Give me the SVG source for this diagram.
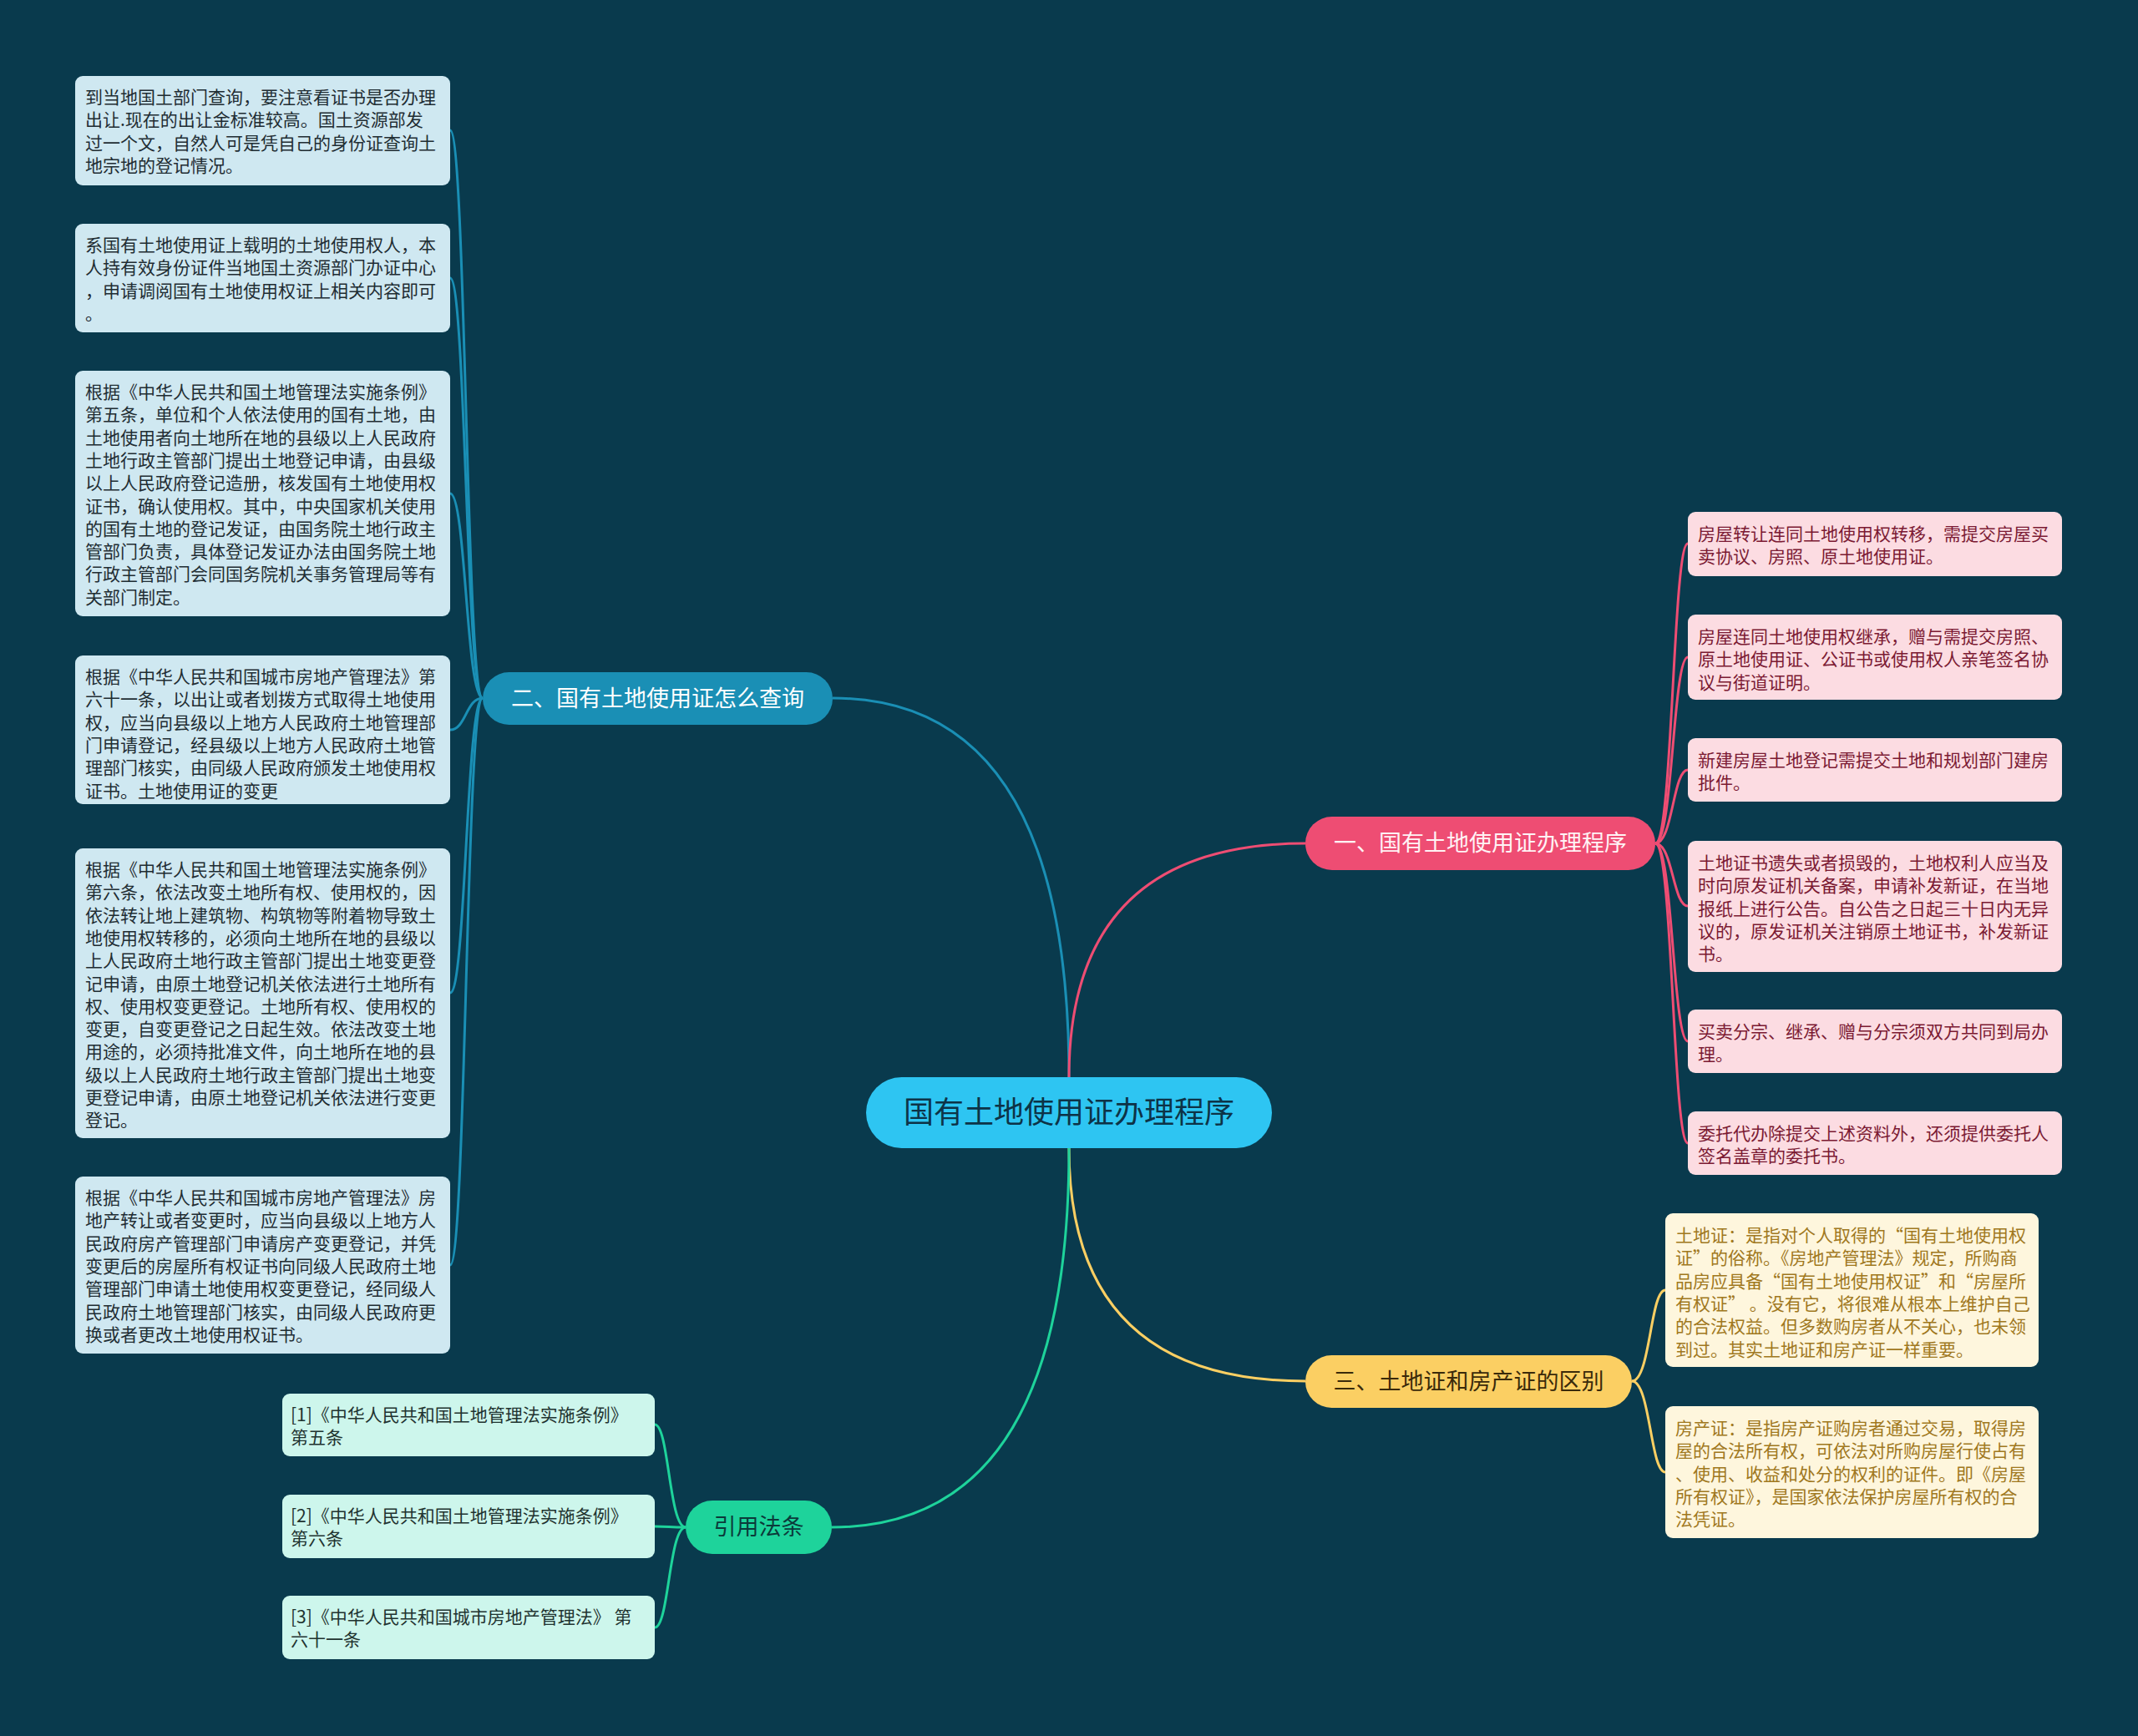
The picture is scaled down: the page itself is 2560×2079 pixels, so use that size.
<svg xmlns="http://www.w3.org/2000/svg" width="2560" height="2079" viewBox="0 0 2560 2079">
<defs>
<style>
.bg{fill:#093A4D}
.lf{font-family:"Noto Sans CJK SC","Noto Sans",sans-serif;font-size:21px}
.br{font-family:"Noto Sans CJK SC","Noto Sans",sans-serif;font-size:27px}
.blueleaf rect{fill:#CFE8F1}
.blueleaf text{fill:#1F2D33}
.pinkleaf rect{fill:#FCDCE2}
.pinkleaf text{fill:#7B1A33}
.yelleaf rect{fill:#FEF6DD}
.yelleaf text{fill:#A0781E}
.mintleaf rect{fill:#CDF6EC}
.mintleaf text{fill:#1F3330}
.c{fill:none;stroke-width:3}
</style>
</defs>
<rect class="bg" x="0" y="0" width="2560" height="2079"/>
<g id="connectors">
<path class="c" stroke="#1A8FB5" d="M1280,1290 Q1280,836 997,836"/>
<path class="c" stroke="#EE4D73" d="M1280,1290 Q1280,1010 1563,1010"/>
<path class="c" stroke="#FBCF63" d="M1280,1375 Q1280,1654 1563,1654"/>
<path class="c" stroke="#1ED39B" d="M1280,1375 Q1280,1829 996,1829"/>
<g stroke="#1A8FB5" class="c">
<path d="M578,836 C558,836 558,156 539,156"/>
<path d="M578,836 C558,836 558,333 539,333"/>
<path d="M578,836 C558,836 558,591 539,591"/>
<path d="M578,836 C558,836 558,874 539,874"/>
<path d="M578,836 C558,836 558,1189 539,1189"/>
<path d="M578,836 C558,836 558,1515 539,1515"/>
</g>
<g stroke="#EE4D73" class="c">
<path d="M1982,1010 C2003,1010 2003,651 2021,651"/>
<path d="M1982,1010 C2003,1010 2003,787 2021,787"/>
<path d="M1982,1010 C2003,1010 2003,922 2021,922"/>
<path d="M1982,1010 C2003,1010 2003,1085 2021,1085"/>
<path d="M1982,1010 C2003,1010 2003,1247 2021,1247"/>
<path d="M1982,1010 C2003,1010 2003,1369 2021,1369"/>
</g>
<g stroke="#FBCF63" class="c">
<path d="M1954,1654 C1976,1654 1976,1545 1994,1545"/>
<path d="M1954,1654 C1976,1654 1976,1763 1994,1763"/>
</g>
<g stroke="#1ED39B" class="c">
<path d="M821,1829 C801,1829 801,1706 784,1706"/>
<path d="M821,1829 C801,1829 801,1828 784,1828"/>
<path d="M821,1829 C801,1829 801,1949 784,1949"/>
</g>
</g>

<g id="center">
<rect x="1037" y="1290" width="486" height="85" rx="42.5" fill="#2EC5F2"/>
<text x="1280" y="1345" text-anchor="middle" font-family="Noto Sans CJK SC, Noto Sans, sans-serif" font-size="36" fill="#0D3347">国有土地使用证办理程序</text>
</g>

<g id="branch-2">
<rect x="578" y="805" width="419" height="63" rx="31.5" fill="#1A8FB5"/>
<text class="br" x="787.5" y="846" text-anchor="middle" fill="#FFFFFF">二、国有土地使用证怎么查询</text>
</g>
<g id="branch-1">
<rect x="1563" y="978" width="419" height="64" rx="32" fill="#EE4D73"/>
<text class="br" x="1772.5" y="1019" text-anchor="middle" fill="#FFF3F5">一、国有土地使用证办理程序</text>
</g>
<g id="branch-3">
<rect x="1563" y="1623" width="391" height="63" rx="31.5" fill="#FBCF63"/>
<text class="br" x="1758.5" y="1664" text-anchor="middle" fill="#3A2A0A">三、土地证和房产证的区别</text>
</g>
<g id="branch-cite">
<rect x="821" y="1797" width="175" height="64" rx="32" fill="#1ED39B"/>
<text class="br" x="908.5" y="1838" text-anchor="middle" fill="#0B3A3A">引用法条</text>
</g>

<g id="leaf-b1" class="blueleaf">
<rect x="90" y="91" width="449" height="131" rx="9"/>
<text class="lf" x="102" y="124"><tspan x="102">到当地国土部门查询，要注意看证书是否办理</tspan><tspan x="102" dy="27.3">出让.现在的出让金标准较高。国土资源部发</tspan><tspan x="102" dy="27.3">过一个文，自然人可是凭自己的身份证查询土</tspan><tspan x="102" dy="27.3">地宗地的登记情况。</tspan></text>
</g>
<g id="leaf-b2" class="blueleaf">
<rect x="90" y="268" width="449" height="130" rx="9"/>
<text class="lf" x="102" y="301"><tspan x="102">系国有土地使用证上载明的土地使用权人，本</tspan><tspan x="102" dy="27.3">人持有效身份证件当地国土资源部门办证中心</tspan><tspan x="102" dy="27.3">，申请调阅国有土地使用权证上相关内容即可</tspan><tspan x="102" dy="27.3">。</tspan></text>
</g>
<g id="leaf-b3" class="blueleaf">
<rect x="90" y="444" width="449" height="294" rx="9"/>
<text class="lf" x="102" y="477"><tspan x="102">根据《中华人民共和国土地管理法实施条例》</tspan><tspan x="102" dy="27.3">第五条，单位和个人依法使用的国有土地，由</tspan><tspan x="102" dy="27.3">土地使用者向土地所在地的县级以上人民政府</tspan><tspan x="102" dy="27.3">土地行政主管部门提出土地登记申请，由县级</tspan><tspan x="102" dy="27.3">以上人民政府登记造册，核发国有土地使用权</tspan><tspan x="102" dy="27.3">证书，确认使用权。其中，中央国家机关使用</tspan><tspan x="102" dy="27.3">的国有土地的登记发证，由国务院土地行政主</tspan><tspan x="102" dy="27.3">管部门负责，具体登记发证办法由国务院土地</tspan><tspan x="102" dy="27.3">行政主管部门会同国务院机关事务管理局等有</tspan><tspan x="102" dy="27.3">关部门制定。</tspan></text>
</g>
<g id="leaf-b4" class="blueleaf">
<rect x="90" y="785" width="449" height="178" rx="9"/>
<text class="lf" x="102" y="818"><tspan x="102">根据《中华人民共和国城市房地产管理法》第</tspan><tspan x="102" dy="27.3">六十一条，以出让或者划拨方式取得土地使用</tspan><tspan x="102" dy="27.3">权，应当向县级以上地方人民政府土地管理部</tspan><tspan x="102" dy="27.3">门申请登记，经县级以上地方人民政府土地管</tspan><tspan x="102" dy="27.3">理部门核实，由同级人民政府颁发土地使用权</tspan><tspan x="102" dy="27.3">证书。土地使用证的变更</tspan></text>
</g>
<g id="leaf-b5" class="blueleaf">
<rect x="90" y="1016" width="449" height="347" rx="9"/>
<text class="lf" x="102" y="1049"><tspan x="102">根据《中华人民共和国土地管理法实施条例》</tspan><tspan x="102" dy="27.3">第六条，依法改变土地所有权、使用权的，因</tspan><tspan x="102" dy="27.3">依法转让地上建筑物、构筑物等附着物导致土</tspan><tspan x="102" dy="27.3">地使用权转移的，必须向土地所在地的县级以</tspan><tspan x="102" dy="27.3">上人民政府土地行政主管部门提出土地变更登</tspan><tspan x="102" dy="27.3">记申请，由原土地登记机关依法进行土地所有</tspan><tspan x="102" dy="27.3">权、使用权变更登记。土地所有权、使用权的</tspan><tspan x="102" dy="27.3">变更，自变更登记之日起生效。依法改变土地</tspan><tspan x="102" dy="27.3">用途的，必须持批准文件，向土地所在地的县</tspan><tspan x="102" dy="27.3">级以上人民政府土地行政主管部门提出土地变</tspan><tspan x="102" dy="27.3">更登记申请，由原土地登记机关依法进行变更</tspan><tspan x="102" dy="27.3">登记。</tspan></text>
</g>
<g id="leaf-b6" class="blueleaf">
<rect x="90" y="1409" width="449" height="212" rx="9"/>
<text class="lf" x="102" y="1442"><tspan x="102">根据《中华人民共和国城市房地产管理法》房</tspan><tspan x="102" dy="27.3">地产转让或者变更时，应当向县级以上地方人</tspan><tspan x="102" dy="27.3">民政府房产管理部门申请房产变更登记，并凭</tspan><tspan x="102" dy="27.3">变更后的房屋所有权证书向同级人民政府土地</tspan><tspan x="102" dy="27.3">管理部门申请土地使用权变更登记，经同级人</tspan><tspan x="102" dy="27.3">民政府土地管理部门核实，由同级人民政府更</tspan><tspan x="102" dy="27.3">换或者更改土地使用权证书。</tspan></text>
</g>

<g id="leaf-c1" class="mintleaf">
<rect x="338" y="1669" width="446" height="75" rx="9"/>
<text class="lf" x="348" y="1702"><tspan x="348">[1]《中华人民共和国土地管理法实施条例》</tspan><tspan x="348" dy="27.3">第五条</tspan></text>
</g>
<g id="leaf-c2" class="mintleaf">
<rect x="338" y="1790" width="446" height="76" rx="9"/>
<text class="lf" x="348" y="1823"><tspan x="348">[2]《中华人民共和国土地管理法实施条例》</tspan><tspan x="348" dy="27.3">第六条</tspan></text>
</g>
<g id="leaf-c3" class="mintleaf">
<rect x="338" y="1911" width="446" height="76" rx="9"/>
<text class="lf" x="348" y="1944"><tspan x="348">[3]《中华人民共和国城市房地产管理法》 第</tspan><tspan x="348" dy="27.3">六十一条</tspan></text>
</g>

<g id="leaf-p1" class="pinkleaf">
<rect x="2021" y="613" width="448" height="77" rx="9"/>
<text class="lf" x="2033" y="647"><tspan x="2033">房屋转让连同土地使用权转移，需提交房屋买</tspan><tspan x="2033" dy="27.3">卖协议、房照、原土地使用证。</tspan></text>
</g>
<g id="leaf-p2" class="pinkleaf">
<rect x="2021" y="736" width="448" height="102" rx="9"/>
<text class="lf" x="2033" y="770"><tspan x="2033">房屋连同土地使用权继承，赠与需提交房照、</tspan><tspan x="2033" dy="27.3">原土地使用证、公证书或使用权人亲笔签名协</tspan><tspan x="2033" dy="27.3">议与街道证明。</tspan></text>
</g>
<g id="leaf-p3" class="pinkleaf">
<rect x="2021" y="884" width="448" height="76" rx="9"/>
<text class="lf" x="2033" y="918"><tspan x="2033">新建房屋土地登记需提交土地和规划部门建房</tspan><tspan x="2033" dy="27.3">批件。</tspan></text>
</g>
<g id="leaf-p4" class="pinkleaf">
<rect x="2021" y="1007" width="448" height="157" rx="9"/>
<text class="lf" x="2033" y="1041"><tspan x="2033">土地证书遗失或者损毁的，土地权利人应当及</tspan><tspan x="2033" dy="27.3">时向原发证机关备案，申请补发新证，在当地</tspan><tspan x="2033" dy="27.3">报纸上进行公告。自公告之日起三十日内无异</tspan><tspan x="2033" dy="27.3">议的，原发证机关注销原土地证书，补发新证</tspan><tspan x="2033" dy="27.3">书。</tspan></text>
</g>
<g id="leaf-p5" class="pinkleaf">
<rect x="2021" y="1209" width="448" height="76" rx="9"/>
<text class="lf" x="2033" y="1243"><tspan x="2033">买卖分宗、继承、赠与分宗须双方共同到局办</tspan><tspan x="2033" dy="27.3">理。</tspan></text>
</g>
<g id="leaf-p6" class="pinkleaf">
<rect x="2021" y="1331" width="448" height="76" rx="9"/>
<text class="lf" x="2033" y="1365"><tspan x="2033">委托代办除提交上述资料外，还须提供委托人</tspan><tspan x="2033" dy="27.3">签名盖章的委托书。</tspan></text>
</g>

<g id="leaf-y1" class="yelleaf">
<rect x="1994" y="1453" width="447" height="184" rx="9"/>
<text class="lf" x="2006" y="1487"><tspan x="2006">土地证：是指对个人取得的“国有土地使用权</tspan><tspan x="2006" dy="27.3">证”的俗称。《房地产管理法》规定，所购商</tspan><tspan x="2006" dy="27.3">品房应具备“国有土地使用权证”和“房屋所</tspan><tspan x="2006" dy="27.3">有权证” 。没有它，将很难从根本上维护自己</tspan><tspan x="2006" dy="27.3">的合法权益。但多数购房者从不关心，也未领</tspan><tspan x="2006" dy="27.3">到过。其实土地证和房产证一样重要。</tspan></text>
</g>
<g id="leaf-y2" class="yelleaf">
<rect x="1994" y="1684" width="447" height="158" rx="9"/>
<text class="lf" x="2006" y="1718"><tspan x="2006">房产证：是指房产证购房者通过交易，取得房</tspan><tspan x="2006" dy="27.3">屋的合法所有权，可依法对所购房屋行使占有</tspan><tspan x="2006" dy="27.3">、使用、收益和处分的权利的证件。即《房屋</tspan><tspan x="2006" dy="27.3">所有权证》，是国家依法保护房屋所有权的合</tspan><tspan x="2006" dy="27.3">法凭证。</tspan></text>
</g>
</svg>
